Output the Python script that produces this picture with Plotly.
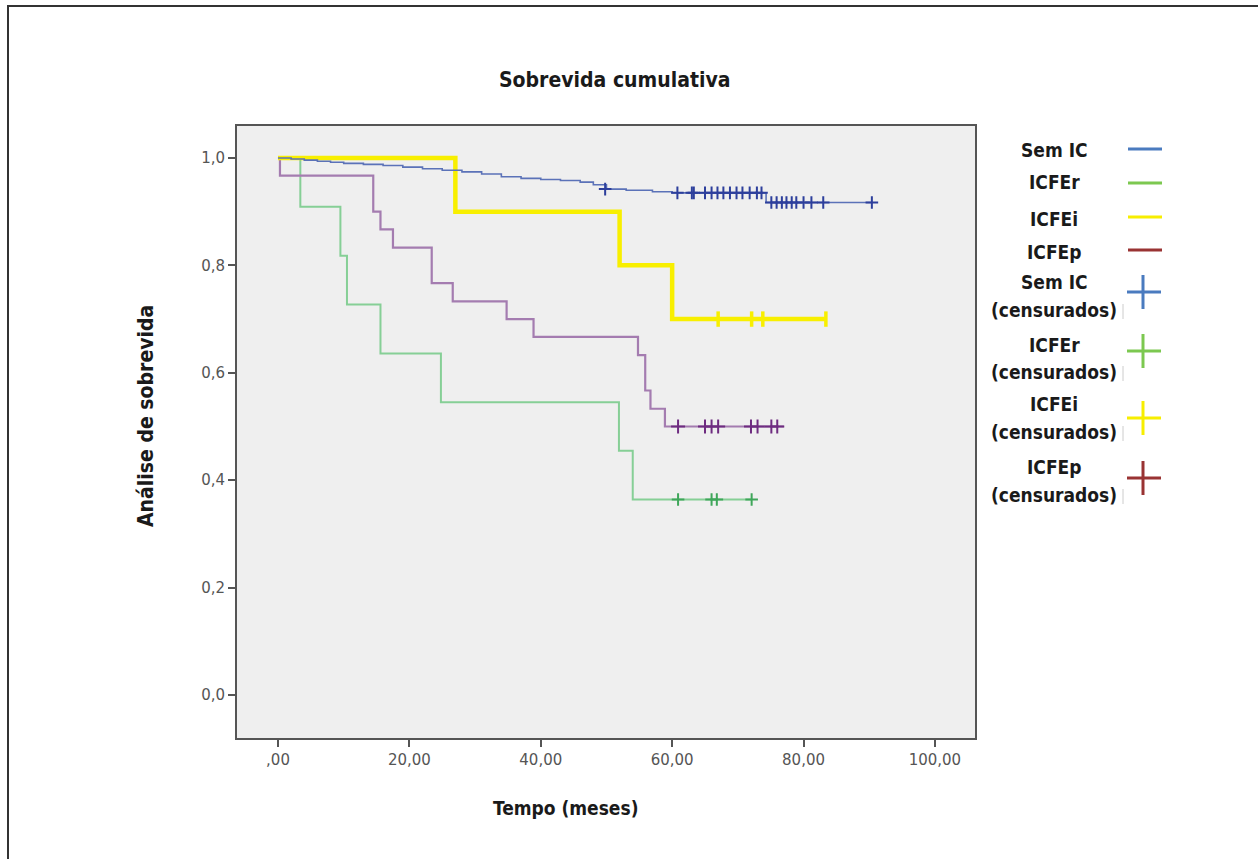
import plotly.graph_objects as go

# ---------------- data ----------------
x_ticks = [0, 20, 40, 60, 80, 100]
x_ticktext = [",00", "20,00", "40,00", "60,00", "80,00", "100,00"]
y_ticks = [0.0, 0.2, 0.4, 0.6, 0.8, 1.0]
y_ticktext = ["0,0", "0,2", "0,4", "0,6", "0,8", "1,0"]

# Sem IC (step curve)
semic_t = [0, 2, 4, 6, 8, 10, 13, 16, 19, 22, 25, 28, 31, 34, 37, 40, 43, 46, 48, 50, 53, 57, 60, 74.3, 90.4]
semic_s = [1.0, 0.998, 0.996, 0.994, 0.992, 0.990, 0.988, 0.986, 0.983, 0.980, 0.977, 0.974, 0.970, 0.965,
           0.962, 0.960, 0.958, 0.955, 0.950, 0.942, 0.940, 0.937, 0.935, 0.917, 0.917]
semic_cens_t = [49.8, 60.8, 63.0, 63.3, 65.0, 66.0, 66.9, 67.8, 68.8, 69.8, 70.7, 71.8, 72.9, 73.6,
                75.1, 75.9, 76.7, 77.4, 78.2, 78.9, 80.0, 81.2, 83.0, 90.4]
semic_cens_s = [0.942, 0.935, 0.935, 0.935, 0.935, 0.935, 0.935, 0.935, 0.935, 0.935, 0.935, 0.935, 0.935, 0.935,
                0.917, 0.917, 0.917, 0.917, 0.917, 0.917, 0.917, 0.917, 0.917, 0.917]

# ICFEr
icfer_t = [0, 3.4, 9.5, 10.5, 15.6, 24.8, 51.9, 54.0, 72.1]
icfer_s = [1.0, 0.909, 0.818, 0.727, 0.636, 0.545, 0.455, 0.364, 0.364]
icfer_cens_t = [60.9, 66.0, 66.8, 72.1]
icfer_cens_s = [0.364, 0.364, 0.364, 0.364]

# ICFEi
icfei_t = [0, 27.0, 52.0, 60.0, 83.4]
icfei_s = [1.0, 0.9, 0.8, 0.7, 0.7]
icfei_cens_t = [67.0, 72.1, 73.8, 83.4]
icfei_cens_s = [0.7, 0.7, 0.7, 0.7]

# ICFEp
icfep_t = [0, 0.3, 14.5, 15.6, 17.5, 23.4, 26.6, 34.8, 38.9, 54.8, 55.9, 56.7, 58.9, 77.0]
icfep_s = [1.0, 0.967, 0.9, 0.867, 0.833, 0.767, 0.733, 0.70, 0.667, 0.633, 0.567, 0.533, 0.50, 0.50]
icfep_cens_t = [60.9, 65.0, 66.0, 67.0, 72.0, 73.0, 75.1, 76.0]
icfep_cens_s = [0.5] * 8

legend_labels = ["Sem IC", "ICFEr", "ICFEi", "ICFEp"]
legend_colors = ["#4a7bbf", "#7cc850", "#f7ee00", "#993333"]

# ---------------- figure ----------------
W, H = 1258, 859
L, R, T, B = 237, 975, 126, 738


def px(xp):
    return (xp - L) / (R - L)


def py(yp):
    return (B - yp) / (B - T)


fig = go.Figure()

# curves
fig.add_trace(go.Scatter(x=icfer_t, y=icfer_s, mode="lines", line=dict(color="#86cf96", width=2, shape="hv"),
                         showlegend=False, hoverinfo="skip"))
fig.add_trace(go.Scatter(x=icfep_t, y=icfep_s, mode="lines", line=dict(color="#a47cb0", width=2.2, shape="hv"),
                         showlegend=False, hoverinfo="skip"))
fig.add_trace(go.Scatter(x=icfei_t, y=icfei_s, mode="lines", line=dict(color="#f8ef00", width=4.5, shape="hv"),
                         showlegend=False, hoverinfo="skip"))
fig.add_trace(go.Scatter(x=semic_t, y=semic_s, mode="lines", line=dict(color="#5b72b8", width=1.6, shape="hv"),
                         showlegend=False, hoverinfo="skip"))

# censored marks
fig.add_trace(go.Scatter(x=icfer_cens_t, y=icfer_cens_s, mode="markers",
                         marker=dict(symbol="cross-thin", size=9, line=dict(color="#3fa65a", width=2)),
                         showlegend=False, hoverinfo="skip"))
fig.add_trace(go.Scatter(x=icfep_cens_t, y=icfep_cens_s, mode="markers",
                         marker=dict(symbol="cross-thin", size=10, line=dict(color="#6e2c80", width=2)),
                         showlegend=False, hoverinfo="skip"))
fig.add_trace(go.Scatter(x=icfei_cens_t, y=icfei_cens_s, mode="markers",
                         marker=dict(symbol="line-ns", size=11, line=dict(color="#f8ef00", width=3.5)),
                         showlegend=False, hoverinfo="skip"))
fig.add_trace(go.Scatter(x=semic_cens_t, y=semic_cens_s, mode="markers",
                         marker=dict(symbol="cross-thin", size=9, line=dict(color="#2d3f9c", width=2)),
                         showlegend=False, hoverinfo="skip"))

bold_font = "Liberation Sans Narrow, DejaVu Sans Condensed, Arial Narrow, sans-serif"
tick_font = dict(family="DejaVu Sans, Verdana, sans-serif", size=15, color="#555555")

annotations = []
shapes = []

# titles
annotations.append(dict(text="<b>Sobrevida cumulativa</b>", x=px(614), y=py(80), xref="paper", yref="paper",
                        showarrow=False, xanchor="center", yanchor="middle",
                        font=dict(family=bold_font, size=21, color="#1a1a1a")))
annotations.append(dict(text="<b>Análise de sobrevida</b>", x=px(146), y=py(416), xref="paper", yref="paper",
                        showarrow=False, xanchor="center", yanchor="middle", textangle=-90,
                        font=dict(family=bold_font, size=21, color="#1a1a1a")))
annotations.append(dict(text="<b>Tempo (meses)</b>", x=px(565), y=py(808), xref="paper", yref="paper",
                        showarrow=False, xanchor="center", yanchor="middle",
                        font=dict(family=bold_font, size=19, color="#1a1a1a")))

# legend: line entries
line_rows = [149, 183, 217, 250]
text_rows = [150, 182, 219, 252]
for lab, col, ly, ty in zip(legend_labels, legend_colors, line_rows, text_rows):
    annotations.append(dict(text=f"<b>{lab}</b>", x=px(1054), y=py(ty), xref="paper", yref="paper",
                            showarrow=False, xanchor="center", yanchor="middle",
                            font=dict(family=bold_font, size=19, color="#1a1a1a")))
    shapes.append(dict(type="line", xref="paper", yref="paper", x0=px(1128), x1=px(1162), y0=py(ly), y1=py(ly),
                       line=dict(color=col, width=3)))

# legend: censored entries
cens_rows = [(282, 310, 292), (345, 372, 351), (404, 432, 418), (467, 495, 478)]
for lab, col, (t1, t2, cy) in zip(legend_labels, legend_colors, cens_rows):
    annotations.append(dict(text=f"<b>{lab}</b>", x=px(1054), y=py(t1), xref="paper", yref="paper",
                            showarrow=False, xanchor="center", yanchor="middle",
                            font=dict(family=bold_font, size=19, color="#1a1a1a")))
    annotations.append(dict(text="<b>(censurados)</b>", x=px(1054), y=py(t2), xref="paper", yref="paper",
                            showarrow=False, xanchor="center", yanchor="middle",
                            font=dict(family=bold_font, size=19, color="#1a1a1a")))
    shapes.append(dict(type="line", xref="paper", yref="paper", x0=px(1143), x1=px(1143),
                       y0=py(cy - 17), y1=py(cy + 17), line=dict(color=col, width=3)))
    shapes.append(dict(type="line", xref="paper", yref="paper", x0=px(1127), x1=px(1161),
                       y0=py(cy), y1=py(cy), line=dict(color=col, width=3)))
    shapes.append(dict(type="line", xref="paper", yref="paper", x0=px(1123), x1=px(1123),
                       y0=py(t2 - 6), y1=py(t2 + 9), line=dict(color="#cccccc", width=1)))

# outer figure frame (left and top)
shapes.append(dict(type="line", xref="paper", yref="paper", x0=px(8), x1=px(8), y0=py(6), y1=py(H),
                   line=dict(color="#333333", width=2)))
shapes.append(dict(type="line", xref="paper", yref="paper", x0=px(7), x1=px(W), y0=py(6), y1=py(6),
                   line=dict(color="#333333", width=2)))

fig.update_layout(
    width=W, height=H,
    margin=dict(l=L, r=W - R, t=T, b=H - B),
    paper_bgcolor="white",
    plot_bgcolor="#efefef",
    showlegend=False,
    annotations=annotations,
    shapes=shapes,
    xaxis=dict(range=[-6.24, 106.1], tickvals=x_ticks, ticktext=x_ticktext, ticks="outside", ticklen=7,
               tickwidth=2, tickcolor="#555555", showgrid=False, zeroline=False, showline=True, linecolor="#555555",
               linewidth=2, mirror=True, tickfont=tick_font, fixedrange=True),
    yaxis=dict(range=[-0.08, 1.0595], tickvals=y_ticks, ticktext=y_ticktext, ticks="outside", ticklen=7,
               tickwidth=2, tickcolor="#555555", showgrid=False, zeroline=False, showline=True, linecolor="#555555",
               linewidth=2, mirror=True, tickfont=tick_font, fixedrange=True),
)

fig.write_html("out.html", config={"displayModeBar": False},
               post_script="document.body.style.margin='0px';document.body.style.overflow='hidden';")
